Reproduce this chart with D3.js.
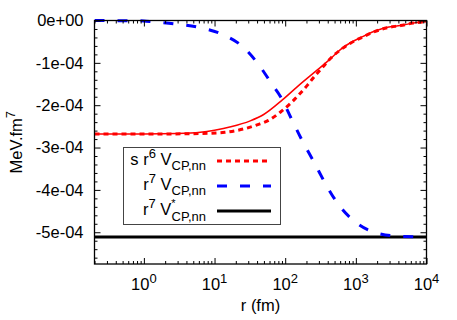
<!DOCTYPE html>
<html>
<head>
<meta charset="utf-8">
<script src="https://cdn.jsdelivr.net/npm/d3@7"></script>
<style>
  body { margin: 0; background: #fff; }
  svg { font-family: "Liberation Sans", Arial, sans-serif; }
</style>
</head>
<body>
<div id="chart"></div>
<script>
// Data (r in fm, values in MeV.fm^7)
const rBlue = [0.2, 0.5, 1, 1.33, 2.8, 6.3, 13.5, 26, 42, 66, 86, 120, 166, 253, 400, 570, 1000, 2100, 4600, 10000];
const vBlue = [0, -0.005e-4, -0.01e-4, -0.03e-4, -0.08e-4, -0.17e-4, -0.34e-4, -0.64e-4, -1.04e-4, -1.52e-4, -1.80e-4, -2.29e-4, -2.77e-4, -3.33e-4, -3.95e-4, -4.35e-4, -4.77e-4, -5.03e-4, -5.10e-4, -5.11e-4];

const rDot = [0.2, 1, 4, 8, 14, 26, 41, 58, 86, 120, 155, 208, 254, 340, 440, 610, 850, 1180, 1800, 2800, 4300, 6500, 10000];
const vDot = [-2.68e-4, -2.68e-4, -2.675e-4, -2.665e-4, -2.64e-4, -2.56e-4, -2.46e-4, -2.36e-4, -2.16e-4, -1.95e-4, -1.76e-4, -1.52e-4, -1.34e-4, -1.10e-4, -0.89e-4, -0.69e-4, -0.53e-4, -0.41e-4, -0.27e-4, -0.17e-4, -0.12e-4, -0.06e-4, -0.03e-4];

const rSolid = [0.2, 1, 3, 6.3, 10, 17, 32, 49.6, 92, 149, 288, 440, 610, 850, 1180, 1800, 2800, 4300, 6500, 10000];
const vSolid = [-2.68e-4, -2.68e-4, -2.67e-4, -2.64e-4, -2.59e-4, -2.51e-4, -2.37e-4, -2.22e-4, -1.87e-4, -1.56e-4, -1.16e-4, -0.90e-4, -0.68e-4, -0.52e-4, -0.40e-4, -0.26e-4, -0.16e-4, -0.12e-4, -0.06e-4, -0.03e-4];

const vBlack = -5.11e-4;

const yMajor = [0, -1e-4, -2e-4, -3e-4, -4e-4, -5e-4];
const xMajor = [1, 10, 100, 1000, 10000];

const width = 457, height = 320;
const mLeft = 94.5, mRight = 426.5, mTop = 20.5, mBottom = 264;
const fontMain = "16.5px", fontSmall = "13px";

const svg = d3.select("#chart").append("svg")
    .attr("width", width)
    .attr("height", height);

const x = d3.scaleLog().domain([0.2, 1e4]).range([mLeft, mRight]);
const y = d3.scaleLinear().domain([-5.75e-4, 0]).range([mBottom, mTop]);

// minor tick values
const xMinor = [];
[0.1, 1, 10, 100, 1000].forEach(dec => {
    for (let k = 2; k <= 9; k++) {
        const v = dec * k;
        if (v >= 0.2 && v <= 1e4) xMinor.push(v);
    }
});
const yMinor = d3.range(0, 29).map(i => -i * 0.2e-4).filter(v => !yMajor.some(m => Math.abs(m - v) < 1e-9));

/*----------------------
CURVES
----------------------*/
svg.append("clipPath").attr("id", "clip")
    .append("rect")
    .attr("x", mLeft).attr("y", mTop - 2)
    .attr("width", mRight - mLeft).attr("height", mBottom - mTop + 2);

const line = d3.line()
    .x(d => x(d[0]))
    .y(d => y(d[1]))
    .curve(d3.curveMonotoneX);

const plot = svg.append("g").attr("clip-path", "url(#clip)");

plot.append("line")
    .attr("x1", mLeft).attr("x2", mRight)
    .attr("y1", y(vBlack)).attr("y2", y(vBlack))
    .attr("stroke", "#000")
    .attr("stroke-width", 3);

plot.append("path")
    .datum(rSolid.map((r, i) => [r, vSolid[i]]))
    .attr("d", line)
    .attr("fill", "none")
    .attr("stroke", "#ff0000")
    .attr("stroke-width", 1.5);

plot.append("path")
    .datum(rDot.map((r, i) => [r, vDot[i]]))
    .attr("d", line)
    .attr("fill", "none")
    .attr("stroke", "#ff0000")
    .attr("stroke-width", 3)
    .attr("stroke-dasharray", "5,4");

plot.append("path")
    .datum(rBlue.map((r, i) => [r, vBlue[i]]))
    .attr("d", line)
    .attr("fill", "none")
    .attr("stroke", "#0000ff")
    .attr("stroke-width", 3)
    .attr("stroke-dasharray", "10,13");

/*----------------------
AXES
----------------------*/
const tickFmt = v => v === 0 ? "0e+00" : "-" + Math.round(-v * 1e4) + "e-04";

const yAxis = svg.append("g")
    .attr("transform", `translate(${mLeft},0)`)
    .call(d3.axisLeft(y).tickValues(yMajor).tickSize(-6).tickPadding(11).tickFormat(tickFmt));
yAxis.select(".domain").remove();
yAxis.selectAll("text").style("font-size", fontMain).attr("fill", "#000");

svg.append("g")
    .attr("transform", `translate(${mLeft},0)`)
    .call(d3.axisLeft(y).tickValues(yMinor).tickSize(-3).tickFormat(""))
    .select(".domain").remove();

svg.append("g")
    .attr("transform", `translate(${mRight},0)`)
    .call(d3.axisRight(y).tickValues(yMajor).tickSize(-6).tickFormat(""))
    .select(".domain").remove();
svg.append("g")
    .attr("transform", `translate(${mRight},0)`)
    .call(d3.axisRight(y).tickValues(yMinor).tickSize(-3).tickFormat(""))
    .select(".domain").remove();

const xAxis = svg.append("g")
    .attr("transform", `translate(0,${mBottom})`)
    .call(d3.axisBottom(x).tickValues(xMajor).tickSize(-6).tickFormat(""));
xAxis.select(".domain").remove();

svg.append("g")
    .attr("transform", `translate(0,${mBottom})`)
    .call(d3.axisBottom(x).tickValues(xMinor).tickSize(-3).tickFormat(""))
    .select(".domain").remove();
svg.append("g")
    .attr("transform", `translate(0,${mTop})`)
    .call(d3.axisTop(x).tickValues(xMajor).tickSize(-6).tickFormat(""))
    .select(".domain").remove();
svg.append("g")
    .attr("transform", `translate(0,${mTop})`)
    .call(d3.axisTop(x).tickValues(xMinor).tickSize(-3).tickFormat(""))
    .select(".domain").remove();

// x tick labels as 10^n
const xLab = svg.append("g").selectAll("text")
    .data(xMajor)
    .enter()
    .append("text")
    .attr("x", d => x(d))
    .attr("y", 290)
    .attr("text-anchor", "middle")
    .style("font-size", fontMain);
xLab.append("tspan").text("10");
xLab.append("tspan")
    .attr("dy", -7)
    .style("font-size", fontSmall)
    .text(d => Math.round(Math.log10(d)));

// frame
svg.append("rect")
    .attr("x", mLeft).attr("y", mTop)
    .attr("width", mRight - mLeft).attr("height", mBottom - mTop)
    .attr("fill", "none")
    .attr("stroke", "#000")
    .attr("stroke-width", 1.3);

svg.selectAll(".tick line").attr("stroke", "#000");

/*----------------------
AXIS LABELS
----------------------*/
svg.append("text")
    .attr("x", (mLeft + mRight) / 2)
    .attr("y", 311)
    .attr("text-anchor", "middle")
    .style("font-size", fontMain)
    .text("r (fm)");

const yl = svg.append("text")
    .attr("transform", `translate(22,${(mTop + mBottom) / 2}) rotate(-90)`)
    .attr("text-anchor", "middle")
    .style("font-size", fontMain);
yl.append("tspan").text("MeV.fm");
yl.append("tspan").attr("dy", -7).style("font-size", fontSmall).text("7");

/*----------------------
LEGEND
----------------------*/
const legend = svg.append("g");
legend.append("rect")
    .attr("x", 123.5).attr("y", 147.5)
    .attr("width", 157).attr("height", 77)
    .attr("fill", "#fff")
    .attr("stroke", "#444")
    .attr("stroke-width", 1);

const entries = [
    { pre: "s r", sup: "6", star: false, color: "#ff0000", width: 3, dash: "5,4", yy: 161 },
    { pre: "r", sup: "7", star: false, color: "#0000ff", width: 3, dash: "10,13", yy: 186 },
    { pre: "r", sup: "7", star: true, color: "#000", width: 3, dash: null, yy: 211 }
];

entries.forEach(e => {
    const t = legend.append("text")
        .attr("x", 206)
        .attr("y", e.yy + 4)
        .attr("text-anchor", "end")
        .style("font-size", fontMain);
    t.append("tspan").text(e.pre);
    t.append("tspan").attr("dy", -7).style("font-size", fontSmall).text(e.sup);
    t.append("tspan").attr("dy", 7).text(" V");
    if (e.star) {
        t.append("tspan").attr("dy", -8).style("font-size", "11px").text("*");
        t.append("tspan").attr("dy", 14).attr("dx", -4).style("font-size", fontSmall).text("CP,nn");
    } else {
        t.append("tspan").attr("dy", 5).style("font-size", fontSmall).text("CP,nn");
    }

    legend.append("line")
        .attr("x1", 217).attr("x2", 271)
        .attr("y1", e.yy).attr("y2", e.yy)
        .attr("stroke", e.color)
        .attr("stroke-width", e.width)
        .attr("stroke-dasharray", e.dash);
});
</script>
</body>
</html>
